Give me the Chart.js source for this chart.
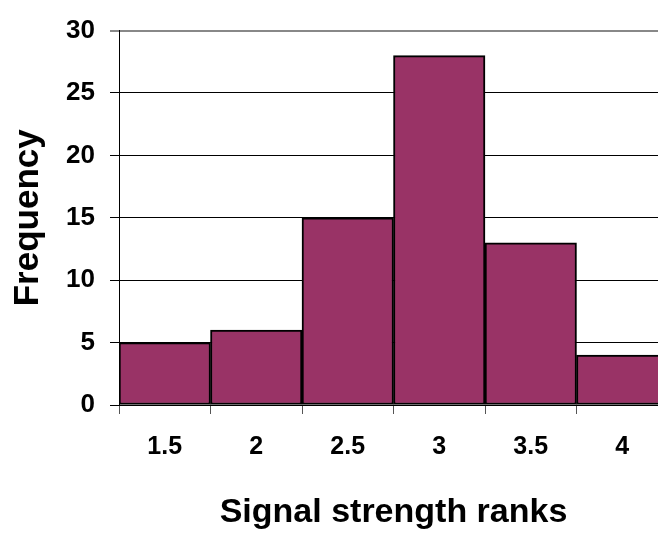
<!DOCTYPE html>
<html>
<head>
<meta charset="utf-8">
<script src="https://cdn.jsdelivr.net/npm/chart.js@4/dist/chart.umd.min.js"></script>
<style>
  html, body { margin: 0; padding: 0; background: #fff; overflow: hidden; }
  #wrap { width: 668px; height: 533px; }
</style>
</head>
<body>
<div id="wrap"><canvas id="chart" width="668" height="533"></canvas></div>
<script>
// histogram data
const ranks = ['1.5', '2', '2.5', '3', '3.5', '4'];
const frequency = [5, 6, 15, 28, 13, 4];
const yMin = 0;
const yMax = 30;
const yStep = 5;

const fontFamily = '"Liberation Sans", Arial, sans-serif';

const ctx = document.getElementById('chart').getContext('2d');
new Chart(ctx, {
  type: 'bar',
  data: {
    labels: ranks,
    datasets: [{
      label: 'Frequency',
      data: frequency,
      backgroundColor: '#993366',
      borderColor: '#000',
      borderWidth: 2,
      borderSkipped: false,
      barPercentage: 1,
      categoryPercentage: 1
    }]
  },
  options: {
    responsive: false,
    animation: false,
    devicePixelRatio: 1,
    layout: { padding: { top: 22, left: 0, right: 0, bottom: 0 } },
    plugins: {
      legend: { display: false },
      tooltip: { enabled: false }
    },
    scales: {
      x: {
        grid: {
          offset: true,
          drawOnChartArea: false,
          drawTicks: true,
          tickLength: 9,
          color: '#555',
          lineWidth: 1
        },
        border: { display: true, color: '#000', width: 1 },
        ticks: {
          color: '#000',
          padding: 18,
          font: { family: fontFamily, size: 25, weight: 'bold' }
        },
        title: {
          display: true,
          text: 'Signal strength ranks',
          color: '#000',
          padding: { top: 3, bottom: 0 },
          font: { family: fontFamily, size: 34, weight: 'bold' }
        },
        afterFit: (scale) => { scale.height = 128; }
      },
      y: {
        min: yMin,
        max: yMax,
        grid: {
          drawTicks: true,
          tickLength: 9,
          color: (c) => c.tick && c.tick.value === yMax ? '#888' : '#000',
          lineWidth: (c) => c.tick && c.tick.value === yMax ? 2 : 1
        },
        border: { display: true, color: '#000', width: 1 },
        ticks: {
          stepSize: yStep,
          color: '#000',
          padding: 15,
          font: { family: fontFamily, size: 26, weight: 'bold' }
        },
        title: {
          display: true,
          text: 'Frequency',
          color: '#000',
          padding: { top: 7, bottom: 0 },
          font: { family: fontFamily, size: 35, weight: 'bold' }
        },
        afterFit: (scale) => { scale.width = 119; }
      }
    }
  }
});
</script>
</body>
</html>
